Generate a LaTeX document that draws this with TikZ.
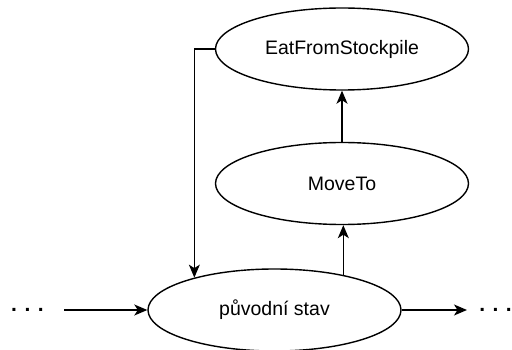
\documentclass[tikz,border=0pt]{standalone}
\usepackage{fontspec}
\setmainfont{Liberation Sans}
\usetikzlibrary{shapes.geometric,arrows.meta}

\tikzset{
  state/.style={ellipse, draw, line width=1.4pt, minimum width=253pt,
                minimum height=82pt, inner sep=0pt,
                font=\fontsize{19.5}{22}\selectfont},
  arr/.style={line width=1.4pt, -{Stealth[length=13pt,width=11pt,inset=3.5pt]}},
  dots/.style={font=\fontsize{21}{24}\selectfont\bfseries, inner sep=0pt, anchor=base}
}

\begin{document}
\begin{tikzpicture}[x=1pt,y=-1pt]
  \useasboundingbox (0,0) rectangle (512,350);

  % states
  \node[state] (eat)  at (342,49)    {EatFromStockpile};
  \node[state] (move) at (342,183.5) {MoveTo};
  \node[state] (orig) at (274.5,310) {původní stav};

  % continuation marks
  \node[dots] (pre)  at (27.5,311.5) {.\hspace{7.5pt}.\hspace{7.5pt}.};
  \node[dots] (post) at (495.5,311.5) {.\hspace{7.5pt}.\hspace{7.5pt}.};
  \coordinate (in)  at (64,310);
  \coordinate (out) at (467,310);

  % transitions
  \draw[arr] (in) -- (orig.west);
  \draw[arr] (orig.east) -- (out);
  \draw[arr] (orig.27.5) -- (orig.27.5 |- move.south);
  \draw[arr] (move) -- (eat);
  \draw[arr] (eat.west) -| (orig.158.5);
\end{tikzpicture}
\end{document}
